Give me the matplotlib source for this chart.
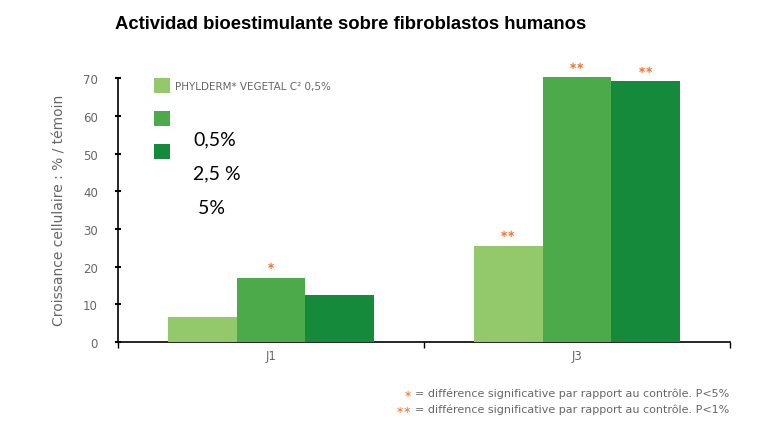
import numpy as np
import matplotlib.pyplot as plt

categories = ["J1", "J3"]
series_labels = ["PHYLDERM* VEGETAL C² 0,5%", "", ""]
conc_labels = ["0,5%", "2,5 %", " 5%"]
values = [
    [6.5, 25.5],   # 0,5%
    [17.0, 70.2],  # 2,5 %
    [12.5, 69.2],  # 5%
]
stars = [
    ["", "**"],
    ["*", "**"],
    ["", "**"],
]
colors = ["#93c96a", "#4daa4b", "#168a3b"]
star_color = "#f07a3c"
grey = "#666666"

fig = plt.figure(figsize=(7.82, 4.39), dpi=100)
ax = fig.add_axes([0.151, 0.2187, 0.7825, 0.606])

x = np.arange(len(categories))
width = 0.225
bars = []
for i, (vals, col) in enumerate(zip(values, colors)):
    pos = x + (i - 1) * width
    b = ax.bar(pos, vals, width, color=col, label=series_labels[i],
               linewidth=0, zorder=3)
    bars.append(b)
    for p, v, s in zip(pos, vals, stars[i]):
        if s:
            ax.text(p, v + 2.0, s.replace("*", "\u2217"), ha="center",
                    va="bottom", color=star_color, fontsize=7,
                    fontweight="bold")

ax.set_xlim(-0.5, 1.5)
ax.set_ylim(0, 70.6)
ax.set_yticks(np.arange(0, 71, 10))
ax.spines["left"].set_bounds(0, 70)
for s in ["top", "right"]:
    ax.spines[s].set_visible(False)
ax.spines["left"].set_linewidth(1.2)
ax.spines["bottom"].set_linewidth(1.2)
ax.tick_params(axis="y", direction="inout", length=5, width=1.5,
               labelsize=8.5, labelcolor=grey, pad=12)
ax.set_xticks([-0.5, 0.5, 1.5])
ax.set_xticklabels([])
ax.set_xticks(x, minor=True)
ax.set_xticklabels(categories, minor=True)
ax.tick_params(axis="x", which="major", direction="out", length=4, width=1)
ax.tick_params(axis="x", which="minor", length=0, labelsize=8.5,
               labelcolor=grey, pad=5)

ax.set_ylabel("Croissance cellulaire : % / témoin", fontsize=10,
              color=grey, labelpad=12)

fig.text(0.147, 0.945, "Actividad bioestimulante sobre fibroblastos humanos",
         fontsize=13.3, fontweight="bold", family="Liberation Sans",
         va="center", ha="left")

fig.legend(handles=bars, labels=series_labels, loc="upper left",
           bbox_to_anchor=(0.197, 0.82), frameon=False, fontsize=7.5,
           labelcolor=grey, handlelength=1.5, handleheight=1.8,
           labelspacing=1.75, handletextpad=0.5, borderaxespad=0,
           borderpad=0)

for k, t in enumerate(conc_labels):
    fig.text(0.247, 0.682 - k * 0.078, t, fontsize=14, family="Lato",
             ha="left", va="center")

notes = ["= différence significative par rapport au contrôle. P<5%",
         "= différence significative par rapport au contrôle. P<1%"]
note_stars = ["*", "**"]
for k, (st, nt) in enumerate(zip(note_stars, notes)):
    yy = 0.102 - k * 0.036
    fig.text(0.527, yy, st.replace("*", "\u2217"), color=star_color,
             fontsize=7, ha="right", va="center")
    fig.text(0.531, yy, nt, color=grey, fontsize=8, ha="left", va="center")

fig.savefig("out.png", dpi=100)
